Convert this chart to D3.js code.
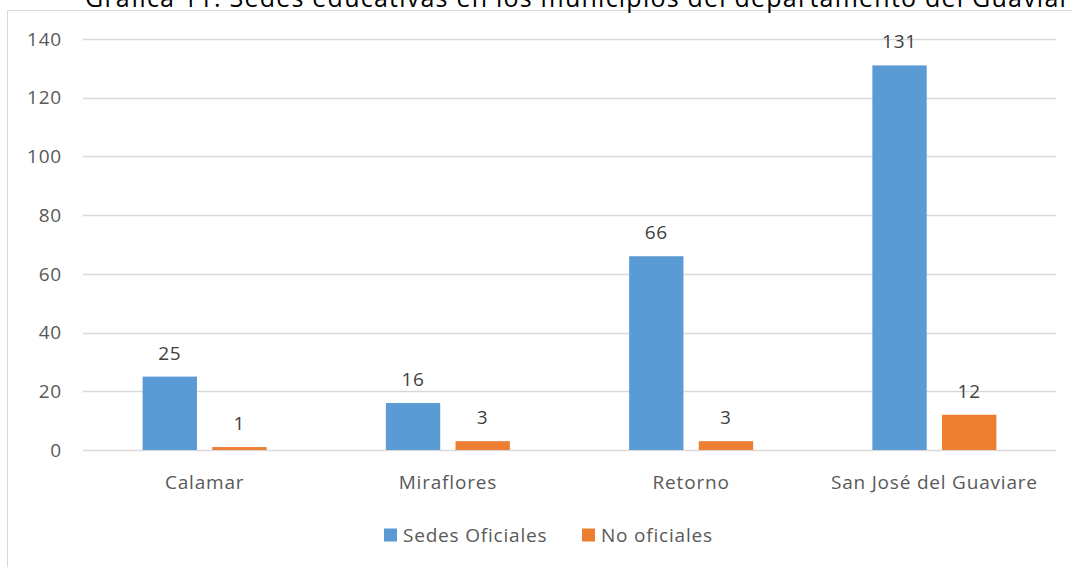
<!DOCTYPE html>
<html>
<head>
<meta charset="utf-8">
<script src="https://cdn.jsdelivr.net/npm/d3@7"></script>
<style>
  body { margin: 0; background: #fff; }
  svg { display: block; }
  .tick-label, .cat-label, .legend-text { font-family: "Open Sans", sans-serif; font-size: 19px; letter-spacing: 0.8px; fill: #595959; }
  .value-label { font-family: "Open Sans", sans-serif; font-size: 19px; letter-spacing: 0.8px; fill: #404040; }
  .title { font-family: "Open Sans", sans-serif; font-size: 25px; fill: #000; }
</style>
</head>
<body>
<svg id="chart"></svg>
<script>
const categories = ["Calamar", "Miraflores", "Retorno", "San José del Guaviare"];
const seriesNames = ["Sedes Oficiales", "No oficiales"];
const oficiales = [25, 16, 66, 131];
const noOficiales = [1, 3, 3, 12];
const yTicks = [0, 20, 40, 60, 80, 100, 120, 140];
const colors = ["#5B9BD5", "#ED7D31"];

const width = 1072;
const height = 567;

const svg = d3.select("#chart")
	.attr("width", width)
	.attr("height", height);

// frame of the chart area (right and bottom run off the picture)
svg.append("rect")
	.attr("x", 7.5)
	.attr("y", 10.5)
	.attr("width", width + 10)
	.attr("height", height + 10)
	.attr("fill", "#fff")
	.attr("stroke", "#D9D9D9");

// title, clipped at the top edge in the source too
svg.append("text")
	.attr("class", "title")
	.attr("x", 85)
	.attr("y", 7)
	.attr("textLength", 1000)
	.attr("lengthAdjust", "spacing")
	.text("Gráfica 11. Sedes educativas en los municipios del departamento del Guaviare");

const x = d3.scaleBand()
	.domain(categories)
	.range([83, 1056]);

const y = d3.scaleLinear()
	.domain([0, 140])
	.range([450, 39]);

const x1 = d3.scaleBand()
	.domain(seriesNames)
	.range([x.bandwidth() / 2 - 62, x.bandwidth() / 2 + 62])
	.paddingInner(0.22);

// gridlines
svg.append("g")
	.selectAll("line")
	.data(yTicks)
	.join("line")
	.attr("x1", 83)
	.attr("x2", 1056)
	.attr("y1", d => Math.round(y(d)) + 0.5)
	.attr("y2", d => Math.round(y(d)) + 0.5)
	.attr("stroke", "#D9D9D9")
	.attr("stroke-width", 1.5);

// y tick labels
svg.append("g")
	.selectAll("text")
	.data(yTicks)
	.join("text")
	.attr("class", "tick-label")
	.attr("x", 62)
	.attr("y", d => y(d))
	.attr("dy", "0.35em")
	.attr("text-anchor", "end")
	.text(d => d);

const rows = categories.map((c, i) => ({
	cat: c,
	values: [oficiales[i], noOficiales[i]]
}));

const groups = svg.append("g")
	.selectAll("g")
	.data(rows)
	.join("g")
	.attr("transform", d => `translate(${x(d.cat)},0)`);

groups.selectAll("rect")
	.data(d => d.values.map((v, j) => ({ name: seriesNames[j], v, j })))
	.join("rect")
	.attr("x", d => x1(d.name))
	.attr("y", d => y(d.v))
	.attr("width", x1.bandwidth())
	.attr("height", d => y(0) - y(d.v))
	.attr("fill", d => colors[d.j]);

groups.selectAll("text")
	.data(d => d.values.map((v, j) => ({ name: seriesNames[j], v, j })))
	.join("text")
	.attr("class", "value-label")
	.attr("x", d => x1(d.name) + x1.bandwidth() / 2)
	.attr("y", d => y(d.v) - 17)
	.attr("text-anchor", "middle")
	.text(d => d.v);

// category labels
svg.append("g")
	.selectAll("text")
	.data(categories)
	.join("text")
	.attr("class", "cat-label")
	.attr("x", d => x(d) + x.bandwidth() / 2)
	.attr("y", 482)
	.attr("dy", "0.35em")
	.attr("text-anchor", "middle")
	.text(d => d);

// legend
const legendX = [384, 582];
const legend = svg.append("g")
	.selectAll("g")
	.data(seriesNames)
	.join("g")
	.attr("transform", (d, i) => `translate(${legendX[i]},535)`);

legend.append("rect")
	.attr("x", 0)
	.attr("y", -6.5)
	.attr("width", 13)
	.attr("height", 13)
	.attr("fill", (d, i) => colors[i]);

legend.append("text")
	.attr("class", "legend-text")
	.attr("x", 19)
	.attr("y", 0)
	.attr("dy", "0.35em")
	.text(d => d);
</script>
</body>
</html>
